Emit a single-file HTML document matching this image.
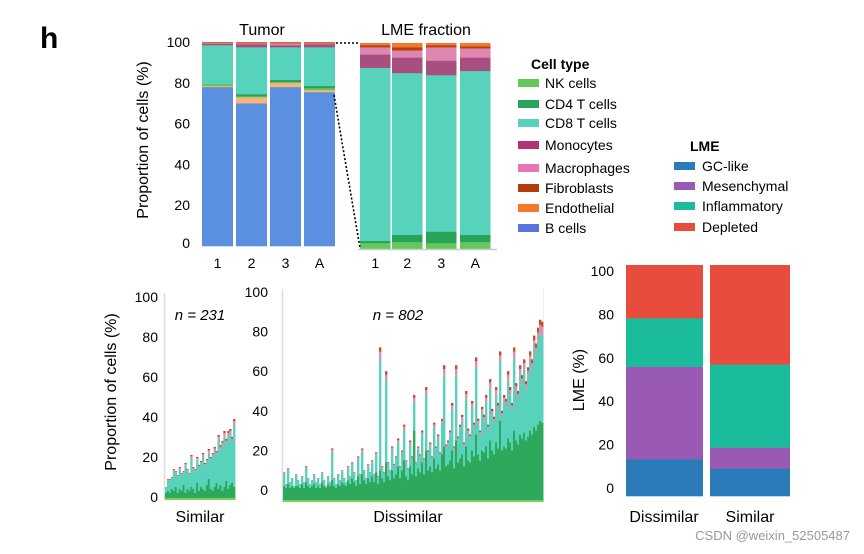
<!DOCTYPE html>
<html><head><meta charset="utf-8">
<style>
html,body{margin:0;padding:0;background:#fff;}
svg{display:block;font-family:"Liberation Sans",Arial,sans-serif;}
</style></head>
<body>
<svg id="fig" width="864" height="554" viewBox="0 0 864 554" xmlns="http://www.w3.org/2000/svg">
  <rect width="864" height="554" fill="#fff"/>
  <text x="40" y="48" font-size="30" font-weight="bold">h</text>
  <text x="262" y="35" font-size="16" text-anchor="middle">Tumor</text>
  <text x="426" y="35" font-size="16" text-anchor="middle">LME fraction</text>
  <text transform="translate(148,140) rotate(-90)" font-size="16" text-anchor="middle">Proportion of cells (%)</text>
  <g id="topL"></g>
  <g id="topR"></g>
  <line x1="358" y1="249.5" x2="497" y2="249.5" stroke="#ccc" stroke-width="1.5"/>
  <line x1="336" y1="43" x2="360" y2="43" stroke="#000" stroke-width="1.6" stroke-dasharray="2,2"/>
  <line x1="334" y1="95" x2="360" y2="248" stroke="#000" stroke-width="1.6" stroke-dasharray="2,2"/>
  <g id="legend"></g>
  <g id="legend2"></g>

  <text transform="translate(116,392) rotate(-90)" font-size="16" text-anchor="middle">Proportion of cells (%)</text>
  <line x1="164.5" y1="293" x2="164.5" y2="501" stroke="#ddd" stroke-width="1.5"/>
  <line x1="282.5" y1="289" x2="282.5" y2="503" stroke="#ddd" stroke-width="1.5"/>
  <line x1="543.5" y1="289" x2="543.5" y2="503" stroke="#eee" stroke-width="1"/>
  <g id="sim"></g>
  <g id="dis"></g>
  <text x="200" y="320" font-size="15" font-style="italic" text-anchor="middle">n = 231</text>
  <text x="398" y="320" font-size="15" font-style="italic" text-anchor="middle">n = 802</text>
  <text x="200" y="522" font-size="16" text-anchor="middle">Similar</text>
  <text x="408" y="522" font-size="16" text-anchor="middle">Dissimilar</text>

  <text transform="translate(584,380) rotate(-90)" font-size="16" text-anchor="middle">LME (%)</text>
  <g id="lme"></g>
  <text x="664" y="522" font-size="16" text-anchor="middle">Dissimilar</text>
  <text x="750" y="522" font-size="16" text-anchor="middle">Similar</text>
  <text x="850" y="540" font-size="13" fill="#999" text-anchor="end">CSDN @weixin_52505487</text>
</svg>
<script>
const NS="http://www.w3.org/2000/svg";
// ---- data ----
const cellTypes=["B cells","Peach","NK cells","CD4 T cells","CD8 T cells","Monocytes","Macrophages","Fibroblasts","Endothelial"];
const cellColors=["#5b8fdf","#fbb37d","#62c95a","#27a35a","#57d3bb","#a84f7f","#dd86b2","#b8400b","#f4792f"];
const sampleLabels=["1","2","3","A"];
const tumor1=[78,0.5,1,0,19,0.8,0.4,0.2,0.1];
const tumor2=[70,3,0.5,1,23,1.5,0.5,0.3,0.2];
const tumor3=[78,2,0.5,1,16,1,1,0.3,0.2];
const tumorA=[75.5,1,1,1,19,1.5,0.5,0.3,0.2];
const lme1=[0,0,3,1,84,6.5,3.5,1,1];
const lme2=[0,0,3.5,3.5,78.5,7.5,3.5,1.5,2];
const lme3=[0,0,3,5.5,76,7,6.5,1,1];
const lmeA=[0,0,3.5,3.5,79.5,6.5,4.5,1,1.5];
const topTicks=[0,20,40,60,80,100];
const legendNames=["NK cells","CD4 T  cells","CD8 T cells","Monocytes","Macrophages","Fibroblasts","Endothelial","B cells"];
const legendColors=["#62c95a","#27a35a","#57d3bb","#b03576","#e677b3","#b23d0a","#f4792f","#5b73df"];
const lmeNames=["GC-like","Mesenchymal","Inflammatory","Depleted"];
const lmeColors=["#2b7bba","#9b59b6","#1abc9c","#e74c3c"];
const lmeGroups=["Dissimilar","Similar"];
const lmeDissimilar=[16,40,21,23];
const lmeSimilar=[12,9,36,43];
const lmeTicks=[0,20,40,60,80,100];
const simTotals=[5,9,9,10,14,13,11,15,12,13,17,14,12,21,15,14,20,16,18,22,17,19,24,20,22,25,23,31,26,28,33,29,33,34,30,39];
const simGreen=[2,3,2,4,3,5,2,4,3,6,2,4,3,5,4,2,7,3,5,4,3,6,9,4,3,5,7,4,6,3,5,8,4,6,7,5];
const disTotals=[9,3,11,4,6,2,8,5,3,7,4,12,6,3,5,8,4,6,3,9,5,2,7,4,21,6,3,8,5,10,6,4,12,7,14,9,5,17,8,21,10,6,13,9,15,8,19,7,72,12,9,60,14,10,22,13,17,26,12,20,33,15,11,25,17,48,14,22,18,30,16,52,20,24,17,34,22,28,19,36,63,23,25,30,44,22,63,27,33,38,24,50,31,28,45,34,67,36,30,42,38,48,33,56,41,37,52,44,70,40,48,46,60,52,44,72,54,50,63,58,66,55,62,70,66,78,74,82,86,85];
const disGreen=[2,1,3,1,2,1,2,2,1,3,1,4,2,1,2,3,1,2,1,4,2,1,3,2,5,2,1,3,2,4,3,2,5,3,6,4,2,7,3,8,5,3,6,4,7,4,9,3,10,6,4,14,7,5,10,6,8,12,6,10,15,7,5,12,8,30,7,11,9,14,8,20,10,12,9,16,11,13,10,18,22,12,13,15,20,11,25,14,16,18,12,22,15,14,20,17,28,18,15,20,19,22,16,25,20,18,24,21,35,20,22,21,26,24,20,30,25,23,28,26,29,25,27,30,28,32,30,33,35,34];

function mk(tag,attrs,parent){const e=document.createElementNS(NS,tag);for(const k in attrs)e.setAttribute(k,attrs[k]);parent.appendChild(e);return e;}

// ---- top stacked bars ----
function stackedPanel(g,sets,xs,bw,y0,y100,name){
  const sy=v=>y0-(y0-y100)*v/100;
  sets.forEach((vals,i)=>{
    let cum=0;
    vals.forEach((v,j)=>{
      if(v<=0){return;}
      const r=mk("rect",{x:xs[i],y:sy(cum+v),width:bw,height:sy(cum)-sy(cum+v)+0.3,fill:cellColors[j]},g);
      
      
      cum+=v;
    });
    const t=mk("text",{x:xs[i]+bw/2,y:268,"font-size":14,"text-anchor":"middle"},g);
    t.textContent=sampleLabels[i];
    
    
  });
}
const gL=document.getElementById("topL");
stackedPanel(gL,[tumor1,tumor2,tumor3,tumorA],[202,236,270,304],31,246,42,"tumor");
topTicks.forEach(t=>{
  const y=246-(246-42)*t/100;
  const e=mk("text",{x:190,y:Math.min(y,243)+5,"font-size":14,"text-anchor":"end"},gL);
  e.textContent=t;
  
  
});
stackedPanel(document.getElementById("topR"),[lme1,lme2,lme3,lmeA],[360,392,426,460],30.5,249,43,"lme-fraction");

// ---- legends ----
const lg=document.getElementById("legend");
let tt=mk("text",{x:531,y:69,"font-size":14,"font-weight":"bold"},lg);tt.textContent="Cell type";


const legendY=[83,104,123,145,168,188,208,228];
legendNames.forEach((n,i)=>{
  const y=legendY[i];
  const r=mk("rect",{x:518,y:y-4,width:21,height:8,fill:legendColors[i]},lg);
  
  
  const t=mk("text",{x:545,y:y+5,"font-size":14},lg);t.textContent=n;
  
  
});
const lg2=document.getElementById("legend2");
tt=mk("text",{x:690,y:151,"font-size":14,"font-weight":"bold"},lg2);tt.textContent="LME";


const lmeLegY=[166,186,206,227];
lmeNames.forEach((n,i)=>{
  const y=lmeLegY[i];
  const r=mk("rect",{x:674,y:y-4,width:21,height:8,fill:lmeColors[i]},lg2);
  
  
  const t=mk("text",{x:702,y:y+5,"font-size":14},lg2);t.textContent=n;
  
  
});

// ---- dense bars ----
function dense(g,totals,greens,x0,x1,base,y0,k,name){
  const bw=(x1-x0)/totals.length;
  const sy=v=>y0-k*v;
  totals.forEach((t,i)=>{
    const x=x0+i*bw, w=bw+0.4;
    const gr=Math.min(greens[i],t);
    const segs=[[base,sy(gr),"#2ea85a"],[sy(gr),sy(t*0.92),"#57d3bb"],[sy(t*0.92),sy(t*0.97),"#dd8fb5"],[sy(t*0.97),sy(t),"#c0502a"]];
    segs.forEach(s=>{
      if(s[0]-s[1]<=0)return;
      const r=mk("rect",{x:x,y:s[1],width:w,height:s[0]-s[1],fill:s[2]},g);
      
      
    });
  });
  const nk=mk("rect",{x:x0,y:base-2,width:x1-x0,height:2,fill:"#7ccf5a"},g);
  
  
}
const simG=document.getElementById("sim");
dense(simG,simTotals,simGreen,165,235,500,497,2.0,"similar");
topTicks.forEach(t=>{
  const e=mk("text",{x:158,y:497-2.0*t+5,"font-size":14,"text-anchor":"end"},simG);
  e.textContent=t;
  
  
});
const disG=document.getElementById("dis");
dense(disG,disTotals,disGreen,283,543,502,490,1.98,"dissimilar");
topTicks.forEach(t=>{
  const e=mk("text",{x:268,y:490-1.98*t+5,"font-size":14,"text-anchor":"end"},disG);
  e.textContent=t;
  
  
});

// ---- LME chart ----
const lmeG=document.getElementById("lme");
const lY=v=>496-2.31*v;
[lmeDissimilar,lmeSimilar].forEach((vals,i)=>{
  const x=[626,710][i], w=[77,80][i];
  let cum=0;
  vals.forEach((v,j)=>{
    const r=mk("rect",{x:x,y:lY(cum+v),width:w,height:lY(cum)-lY(cum+v)+0.3,fill:lmeColors[j]},lmeG);
    
    
    cum+=v;
  });
});
lmeTicks.forEach(t=>{
  const e=mk("text",{x:614,y:lY(t)*0.94+0+ (1-0.94)*496 +0,"font-size":14,"text-anchor":"end"},lmeG);
  e.setAttribute("y",488-(488-271)*t/100+5);
  e.textContent=t;
  
  
});
</script>
</body></html>
